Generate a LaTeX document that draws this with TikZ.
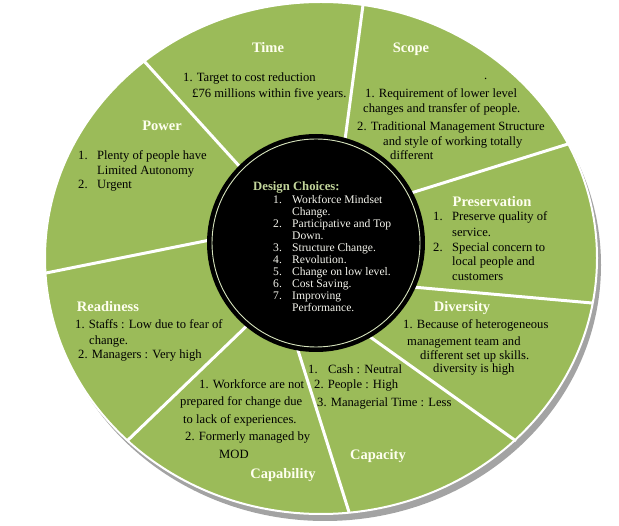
\documentclass[tikz,border=0pt]{standalone}
\usepackage{fontspec}
\setmainfont{Liberation Serif}
\definecolor{ringgreen}{HTML}{9BBB59}
\definecolor{shadowgray}{HTML}{A3A3A3}
\definecolor{titlecol}{HTML}{FFFFF0}
\definecolor{dchoice}{HTML}{C3D69B}
\definecolor{listcol}{HTML}{F4F4EC}
\definecolor{innerring}{HTML}{D7E4BD}
\begin{document}
\begin{tikzpicture}[x=1pt,y=-1pt,
  bt/.style={anchor=base west, inner sep=0pt, font=\fontsize{12.6}{15}\selectfont, text=black},
  tt/.style={anchor=base, inner sep=0pt, font=\fontsize{14.5}{17}\selectfont\bfseries, text=titlecol},
  it/.style={anchor=base west, inner sep=0pt, font=\fontsize{11.6}{12}\selectfont, text=listcol},
  divider/.style={draw=white, line width=3pt}]
\useasboundingbox (0,0) rectangle (619,526);
% outer ring
\fill[shadowgray] (325,265) ellipse [x radius=276pt, y radius=256pt];
\fill[ringgreen] (321,258) ellipse [x radius=276pt, y radius=256pt];
\draw[white, line width=2pt] (321,258) ellipse [x radius=276pt, y radius=256pt];
% dividers
\coordinate (d1a) at (343,155); \coordinate (d1b) at (363,5);
\coordinate (d2a) at (250,178); \coordinate (d2b) at (144,61);
\coordinate (d3a) at (395,198); \coordinate (d3b) at (568,144);
\coordinate (d4a) at (390,285); \coordinate (d4b) at (592,303);
\coordinate (d5a) at (345,319); \coordinate (d5b) at (516,441);
\coordinate (d6a) at (290,325); \coordinate (d6b) at (349,512);
\coordinate (d7a) at (255,318); \coordinate (d7b) at (127,441);
\coordinate (d8a) at (230,236); \coordinate (d8b) at (46,273);
\foreach \i in {1,...,8} {\draw[divider] (d\i a) -- (d\i b);}
% inner circle
\fill[black] (316,243) circle (109pt);
\draw[innerring, line width=0.9pt] (316,243) circle (104pt);
% Time
\node[tt] (timeT) at (268,53) {Time};
\node[bt] (time1) at (183,82) {1. Target to cost reduction};
\node[bt] (time2) at (192,98) {£76 millions within five years.};
% Scope
\node[tt] (scopeT) at (411,53) {Scope};
\node[bt] (sdot) at (484,80) {.};
\node[bt] (scope1) at (365,98) {1. Requirement of lower level};
\node[bt] (scope2) at (363,113) {changes and transfer of people.};
\node[bt] (scope3) at (357,131) {2. Traditional Management Structure};
\node[bt] (scope4) at (383,146) {and style of working totally};
\node[bt] (scope5) at (390,160) {different};
% Power
\node[tt] (powerT) at (162,131) {Power};
\node[bt] (pow1n) at (78,160) {1.};
\node[bt] (pow1) at (97,160) {Plenty of people have};
\node[bt] (pow2) at (97,175) {Limited Autonomy};
\node[bt] (pow3n) at (78,189) {2.};
\node[bt] (pow3) at (97,189) {Urgent};
% Preservation
\node[tt] (presT) at (492,207) {Preservation};
\node[bt] (pres1n) at (433,221) {1.};
\node[bt] (pres1) at (452,221) {Preserve quality of};
\node[bt] (pres2) at (452,237) {service.};
\node[bt] (pres3n) at (433,252) {2.};
\node[bt] (pres3) at (452,252) {Special concern to};
\node[bt] (pres4) at (452,266) {local people and};
\node[bt] (pres5) at (452,281) {customers};
% Diversity
\node[tt] (divT) at (462,312) {Diversity};
\node[bt] (div1) at (403,329) {1. Because of heterogeneous};
\node[bt] (div2) at (407,346) {management team and};
\node[bt] (div3) at (420,360) {different set up skills.};
\node[bt] (div4) at (433,373) {diversity is high};
% Readiness
\node[tt] (readT) at (108,312) {Readiness};
\node[bt] (read1) at (75,329) {1. Staffs : Low due to fear of};
\node[bt] (read2) at (89,345) {change.};
\node[bt] (read3) at (78,359) {2. Managers : Very high};
% Capability
\node[bt] (cab1) at (199,389) {1. Workforce are not};
\node[bt] (cab2) at (180,406) {prepared for change due};
\node[bt] (cab3) at (183,424) {to lack of experiences.};
\node[bt] (cab4) at (185,441) {2. Formerly managed by};
\node[bt] (cab5) at (219,459) {MOD};
\node[tt] (cabT) at (283,479) {Capability};
% Capacity
\node[bt] (cap1n) at (308,374) {1.};
\node[bt] (cap1) at (328,374) {Cash : Neutral};
\node[bt] (cap2) at (314,389) {2. People : High};
\node[bt] (cap3) at (317,407) {3. Managerial Time : Less};
\node[tt] (capT) at (378,460) {Capacity};
% Design choices
\node[anchor=base west, inner sep=0pt, font=\fontsize{12.7}{15}\selectfont\bfseries, text=dchoice] (dcT) at (253,191) {Design Choices:};
\node[it] (dc1n) at (273,204) {1.};
\node[it] (dc1) at (292,204) {Workforce Mindset};
\node[it] (dc1b) at (292,216) {Change.};
\node[it] (dc2n) at (273,228) {2.};
\node[it] (dc2) at (292,228) {Participative and Top};
\node[it] (dc2b) at (292,240) {Down.};
\node[it] (dc3n) at (273,252) {3.};
\node[it] (dc3) at (292,252) {Structure Change.};
\node[it] (dc4n) at (273,264) {4.};
\node[it] (dc4) at (292,264) {Revolution.};
\node[it] (dc5n) at (273,276) {5.};
\node[it] (dc5) at (292,276) {Change on low level.};
\node[it] (dc6n) at (273,288) {6.};
\node[it] (dc6) at (292,288) {Cost Saving.};
\node[it] (dc7n) at (273,300) {7.};
\node[it] (dc7) at (292,300) {Improving};
\node[it] (dc7b) at (292,312) {Performance.};
\end{tikzpicture}
\end{document}
